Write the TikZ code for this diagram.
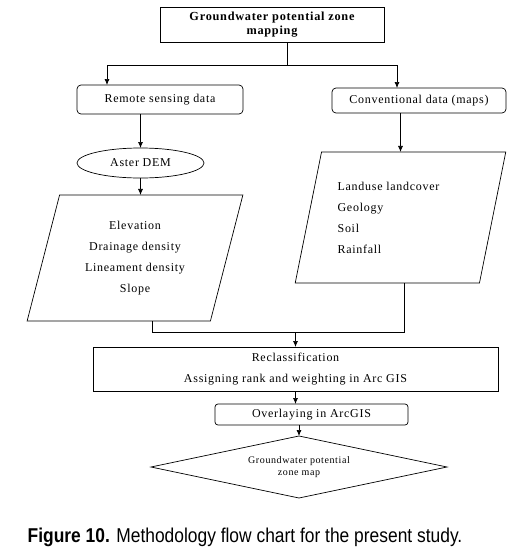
\documentclass[tikz,border=0pt]{standalone}
\usepackage{fontspec}
\newfontfamily\diagfont{Liberation Serif}[LetterSpace=6]
\newfontfamily\capfont{Liberation Sans}[FakeStretch=0.87]
\usetikzlibrary{arrows.meta,shapes.geometric,positioning}

\begin{document}
\begin{tikzpicture}[x=1pt,y=-1pt,>={Latex[length=6pt,width=5pt]},line width=0.7pt,
    base/.style={draw,outer sep=0pt,inner sep=2pt,align=center,font={\diagfont\fontsize{12}{21}\selectfont}},
    box/.style={base,rectangle},
    rbox/.style={base,rectangle,rounded corners=4pt},
    para/.style={base,trapezium,trapezium left angle=74,trapezium right angle=106,trapezium stretches=true}]
    \useasboundingbox (0,0) rectangle (514,557);
    \node[box,minimum width=224,minimum height=35,font={\diagfont\bfseries\fontsize{12.3}{14}\selectfont}] (goal) at (272,24.5) {Groundwater potential zone\\mapping};
    \node[rbox,minimum width=166,minimum height=29] (remote) at (160,99.5) {Remote sensing data};
    \node[rbox,minimum width=174,minimum height=25] (conv) at (419,100.5) {Conventional data (maps)};
    \node[base,ellipse,minimum width=127,minimum height=30] (aster) at (140.5,163) {Aster DEM};
    \node[para,minimum width=216,minimum height=126] (dem) at (135,258) {Elevation\\Drainage density\\Lineament density\\Slope};
    \node[para,minimum width=211,minimum height=131,align=left] (maps) at (400.5,217.5) {Landuse landcover\hspace*{24pt}\\Geology\\Soil\\Rainfall};
    \node[box,minimum width=405,minimum height=44] (reclass) at (295.5,369) {Reclassification\\Assigning rank and weighting in Arc GIS};
    \node[rbox,rounded corners=3pt,minimum width=193,minimum height=21] (overlay) at (311.5,414.5) {Overlaying in ArcGIS};
    \node[base,diamond,aspect=4.77,inner sep=0pt,minimum width=296,minimum height=62,font={\diagfont\fontsize{10}{11.5}\selectfont}] (gwmap) at (299,467) {Groundwater potential\\zone map};
    \node[anchor=base,font={\capfont\fontsize{20}{24}\selectfont}] (caption) at (245,542) {\textbf{Figure 10.} Methodology flow chart for the present study.};
    % branching from the goal
    \coordinate (split) at (287,65);
    \coordinate (lsplit) at (107,65);
    \coordinate (rsplit) at (397,65);
    \draw (goal.south -| split) -- (split);
    \draw (lsplit) -- (rsplit);
    \draw[->] (lsplit) -- (lsplit |- remote.north);
    \draw[->] (rsplit) -- (rsplit |- conv.north);
    \draw[->] (remote.south -| aster.north) -- (aster.north);
    \draw[->] (aster.south) -- (aster.south |- dem.north);
    \draw[->] (maps.north |- conv.south) -- (maps.north);
    % joining the two inputs
    \coordinate (ljoin) at (152,332);
    \coordinate (rjoin) at (404,332);
    \draw (ljoin |- dem.south) -- (ljoin) -- (rjoin) -- (rjoin |- maps.south);
    \draw[->] (reclass.north |- ljoin) -- (reclass.north);
    \draw[->] (reclass.south) -- (reclass.south |- overlay.north);
    \draw[->] (gwmap.north |- overlay.south) -- (gwmap.north);
\end{tikzpicture}
\end{document}
